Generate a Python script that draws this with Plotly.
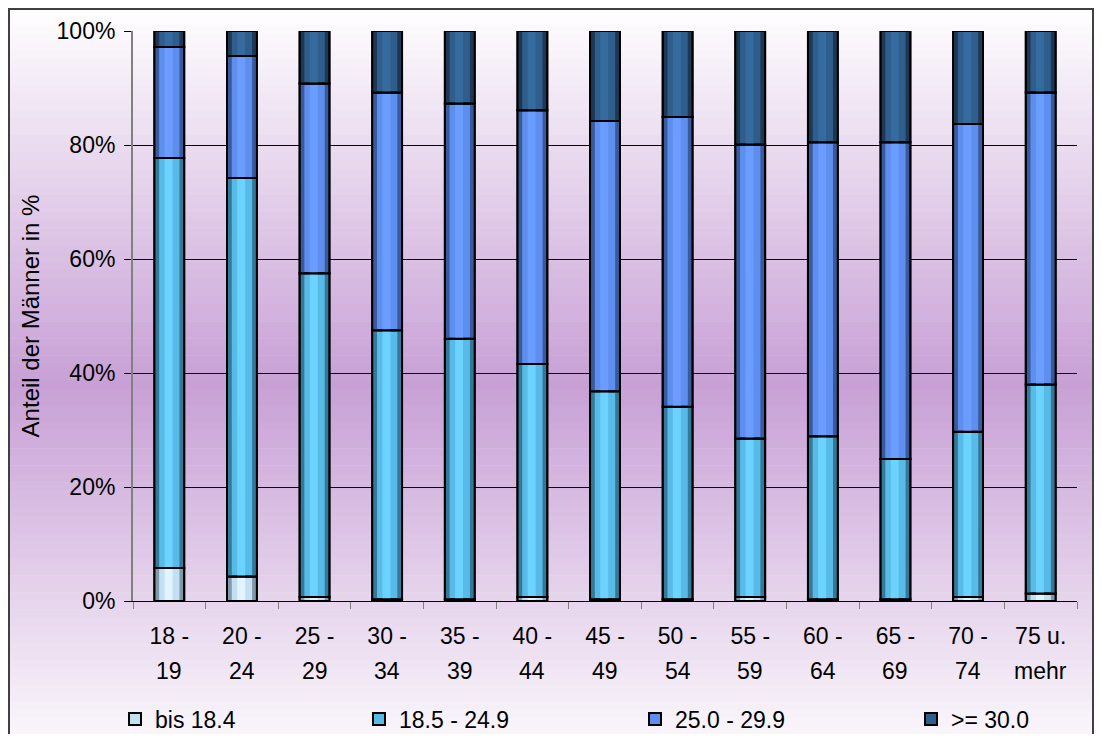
import numpy as np
import plotly.graph_objects as go

# age groups, split in two label rows like in the original
age_from = ["18 -", "20 -", "25 -", "30 -", "35 -", "40 -", "45 -", "50 -",
            "55 -", "60 -", "65 -", "70 -", "75 u."]
age_to = ["19", "24", "29", "34", "39", "44", "49", "54", "59", "64", "69", "74", "mehr"]
categories = [f"{a} {b}" for a, b in zip(age_from, age_to)]

# share of men per BMI class, in %
bmi_under = [5.8, 4.3, 0.7, 0.3, 0.3, 0.7, 0.3, 0.3, 0.7, 0.3, 0.3, 0.7, 1.3]
bmi_normal = [71.9, 69.9, 56.8, 47.2, 45.7, 40.9, 36.5, 33.8, 27.8, 28.6, 24.6, 29.0, 36.7]
bmi_over = [19.5, 21.4, 33.3, 41.7, 41.3, 44.5, 47.4, 50.8, 51.6, 51.6, 55.6, 54.0, 51.2]
bmi_obese = [2.8, 4.4, 9.2, 10.8, 12.7, 13.9, 15.8, 15.1, 19.9, 19.5, 19.5, 16.3, 10.8]

series_names = ["bis 18.4", "18.5 - 24.9", "25.0 - 29.9", ">= 30.0"]
y_ticks = [0, 20, 40, 60, 80, 100]
y_labels = [f"{v}%" for v in y_ticks]

# (mid, edge, highlight) colours for the cylinder look
palette = [
    ("#C2E0F2", "#8099AA", "#E2F4FD"),
    ("#58BAE6", "#34799A", "#6CD2FF"),
    ("#5F8FEE", "#3A5A9E", "#6A9DFF"),
    ("#2F5D8C", "#1E3754", "#356B9F"),
]

# page geometry; the html body adds an 8px margin on every side,
# so the figure is made 16px smaller than the window
OFF = 8
PAGE_W, PAGE_H = 1102, 742
P_LEFT, P_TOP, P_RIGHT, P_BOTTOM = 133, 31, 1077, 601
W, H = PAGE_W - 2 * OFF, PAGE_H - 2 * OFF
PW, PH = P_RIGHT - P_LEFT, P_BOTTOM - P_TOP
FONT = "Liberation Sans, Arial, sans-serif"


def px_x(px):
    return (px - P_LEFT) / PW


def px_y(py):
    return (P_BOTTOM - py) / PH


BAR_W = 0.41

fig = go.Figure()

bases = np.vstack([np.zeros(len(categories)),
                   np.cumsum([bmi_under, bmi_normal, bmi_over], axis=0)])
legend_ids = ["legend", "legend2", "legend3", "legend4"]

for name, vals, base, (mid, edge, hi), lg in zip(
    series_names, [bmi_under, bmi_normal, bmi_over, bmi_obese], bases, palette, legend_ids
):
    common = dict(x=categories, y=vals, base=base, hoverinfo="skip")
    fig.add_trace(go.Bar(name=name, legend=lg, width=BAR_W,
                         marker=dict(color=mid, line=dict(color="black", width=2)), **common))
    # dark side stripes
    for off in (-BAR_W / 2 + 0.015, BAR_W / 2 - 0.015 - 0.05):
        fig.add_trace(go.Bar(width=0.05, offset=off, marker=dict(color=edge, line=dict(width=0)),
                             showlegend=False, **common))
    # bright centre stripe
    fig.add_trace(go.Bar(width=0.11, offset=-0.065, marker=dict(color=hi, line=dict(width=0)),
                         showlegend=False, **common))
    # outline on top
    fig.add_trace(go.Bar(width=BAR_W, marker=dict(color="rgba(0,0,0,0)", line=dict(color="black", width=2)),
                         showlegend=False, **common))

# vertical background gradient white -> lilac -> white
shapes = []
top, mid_y, bot = 8, 385, 770
c_end = np.array([255, 255, 255])
c_mid = np.array([200, 160, 214])
steps = 90
edges = np.linspace(top, bot, steps + 1)
for i in range(steps):
    yc = (edges[i] + edges[i + 1]) / 2
    t = 1 - abs(yc - mid_y) / (mid_y - top if yc < mid_y else bot - mid_y)
    c = (c_end + (c_mid - c_end) * t).astype(int)
    shapes.append(dict(type="rect", xref="paper", yref="paper", layer="below",
                       x0=px_x(9), x1=px_x(1100), y0=px_y(edges[i]), y1=px_y(edges[i + 1] + 0.6),
                       line=dict(width=0), fillcolor=f"rgb({c[0]},{c[1]},{c[2]})"))
shapes.append(dict(type="rect", xref="paper", yref="paper", layer="below",
                   x0=px_x(9), x1=px_x(PAGE_W - OFF - 1), y0=px_y(9), y1=px_y(770),
                   line=dict(color="#404040", width=2), fillcolor="rgba(0,0,0,0)"))

annotations = [
    dict(x=c, y=0, xref="x", yref="paper", text=t, showarrow=False,
         yanchor="middle", yshift=-70, font=dict(size=23, color="black", family=FONT))
    for c, t in zip(categories, age_to)
]

# one legend per entry so each sits where the original puts it
legend_marker_left = [133, 377, 653, 929]
legends = {}
for lg, mx in zip(legend_ids, legend_marker_left):
    legends[lg] = dict(orientation="h", x=px_x(mx - 18), xanchor="left",
                       y=px_y(719), yanchor="middle", font=dict(size=23),
                       bgcolor="rgba(0,0,0,0)")

fig.update_layout(
    width=W, height=H,
    margin=dict(l=P_LEFT - OFF, r=W - (P_RIGHT - OFF), t=P_TOP - OFF, b=H - (P_BOTTOM - OFF),
                autoexpand=False),
    barmode="overlay",
    paper_bgcolor="white",
    plot_bgcolor="rgba(0,0,0,0)",
    font=dict(family=FONT, size=23, color="black"),
    shapes=shapes,
    annotations=annotations,
    showlegend=True,
    **legends,
)
fig.update_xaxes(
    type="category", tickvals=categories, ticktext=age_from,
    showline=True, linecolor="black", linewidth=1,
    ticks="outside", tickson="boundaries", ticklen=7, tickcolor="#808080",
    ticklabelstandoff=14,
    showgrid=False, range=[-0.5, len(categories) - 0.5],
)
fig.update_yaxes(
    range=[0, 100], tickvals=y_ticks, ticktext=y_labels,
    showgrid=True, gridcolor="black", gridwidth=1,
    showline=True, linecolor="#808080", linewidth=2,
    ticks="outside", ticklen=7, tickcolor="black",
    ticklabelstandoff=4,
    zeroline=False,
    title=dict(text="Anteil der Männer in %", standoff=10, font=dict(size=24)),
)

fig.write_html("out.html")
